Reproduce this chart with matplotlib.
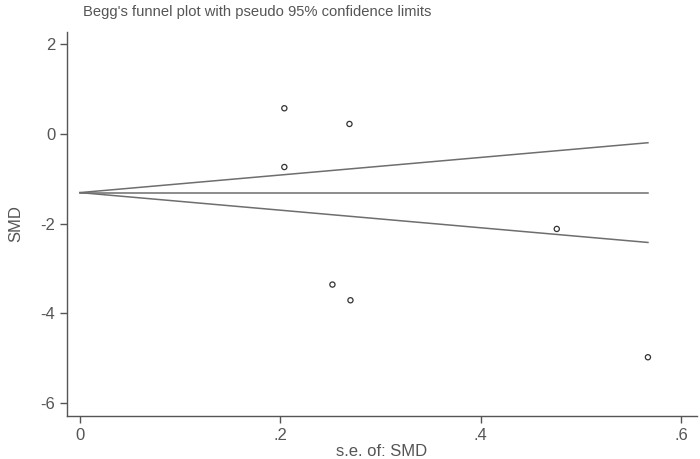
import numpy as np
from matplotlib import pyplot as plt

plt.rcParams['font.family'] = ['Liberation Sans', 'DejaVu Sans']
plt.rcParams['axes.unicode_minus'] = False

# Study data
se = [0.204, 0.269, 0.204, 0.476, 0.252, 0.270, 0.567]
smd = [0.57, 0.22, -0.74, -2.12, -3.36, -3.71, -4.98]
pooled = -1.31

x_ticks = [0, 0.2, 0.4, 0.6]
x_labels = ['0', '.2', '.4', '.6']
y_ticks = [2, 0, -2, -4, -6]

fig = plt.figure(figsize=(7, 4.59), dpi=100)
ax = fig.add_axes([67/700, 1 - 416/459, 630/700, 384/459])

# pseudo 95% limits
se_line = np.array([0, max(se)])
ax.plot(se_line, [pooled, pooled], color='#6e6e6e', lw=1.1)
ax.plot(se_line, pooled + 1.96 * se_line, color='#6e6e6e', lw=1.1)
ax.plot(se_line, pooled - 1.96 * se_line, color='#6e6e6e', lw=1.1)

ax.scatter(se, smd, s=14, facecolors='none', edgecolors='#333333', linewidths=0.9, zorder=3)

ax.set_xlim(-0.013, 0.616)
ax.set_ylim(-6.29, 2.27)
ax.set_xticks(x_ticks)
ax.set_xticklabels(x_labels)
ax.set_yticks(y_ticks)

for s in ['top', 'right']:
    ax.spines[s].set_visible(False)
for s in ['left', 'bottom']:
    ax.spines[s].set_color('#555555')
    ax.spines[s].set_linewidth(1.0)
ax.tick_params(colors='#555555', labelcolor='#555555', labelsize=12, length=5, width=1)

ax.set_xlabel('s.e. of: SMD', fontsize=12, color='#555555', labelpad=1)
ax.set_ylabel('SMD', fontsize=12, color='#555555', labelpad=12)
fig.text(83/700, 1 - 12/459, "Begg's funnel plot with pseudo 95% confidence limits",
         fontsize=10.6, color='#555555', va='center', ha='left')

fig.savefig('out.png', dpi=100)
